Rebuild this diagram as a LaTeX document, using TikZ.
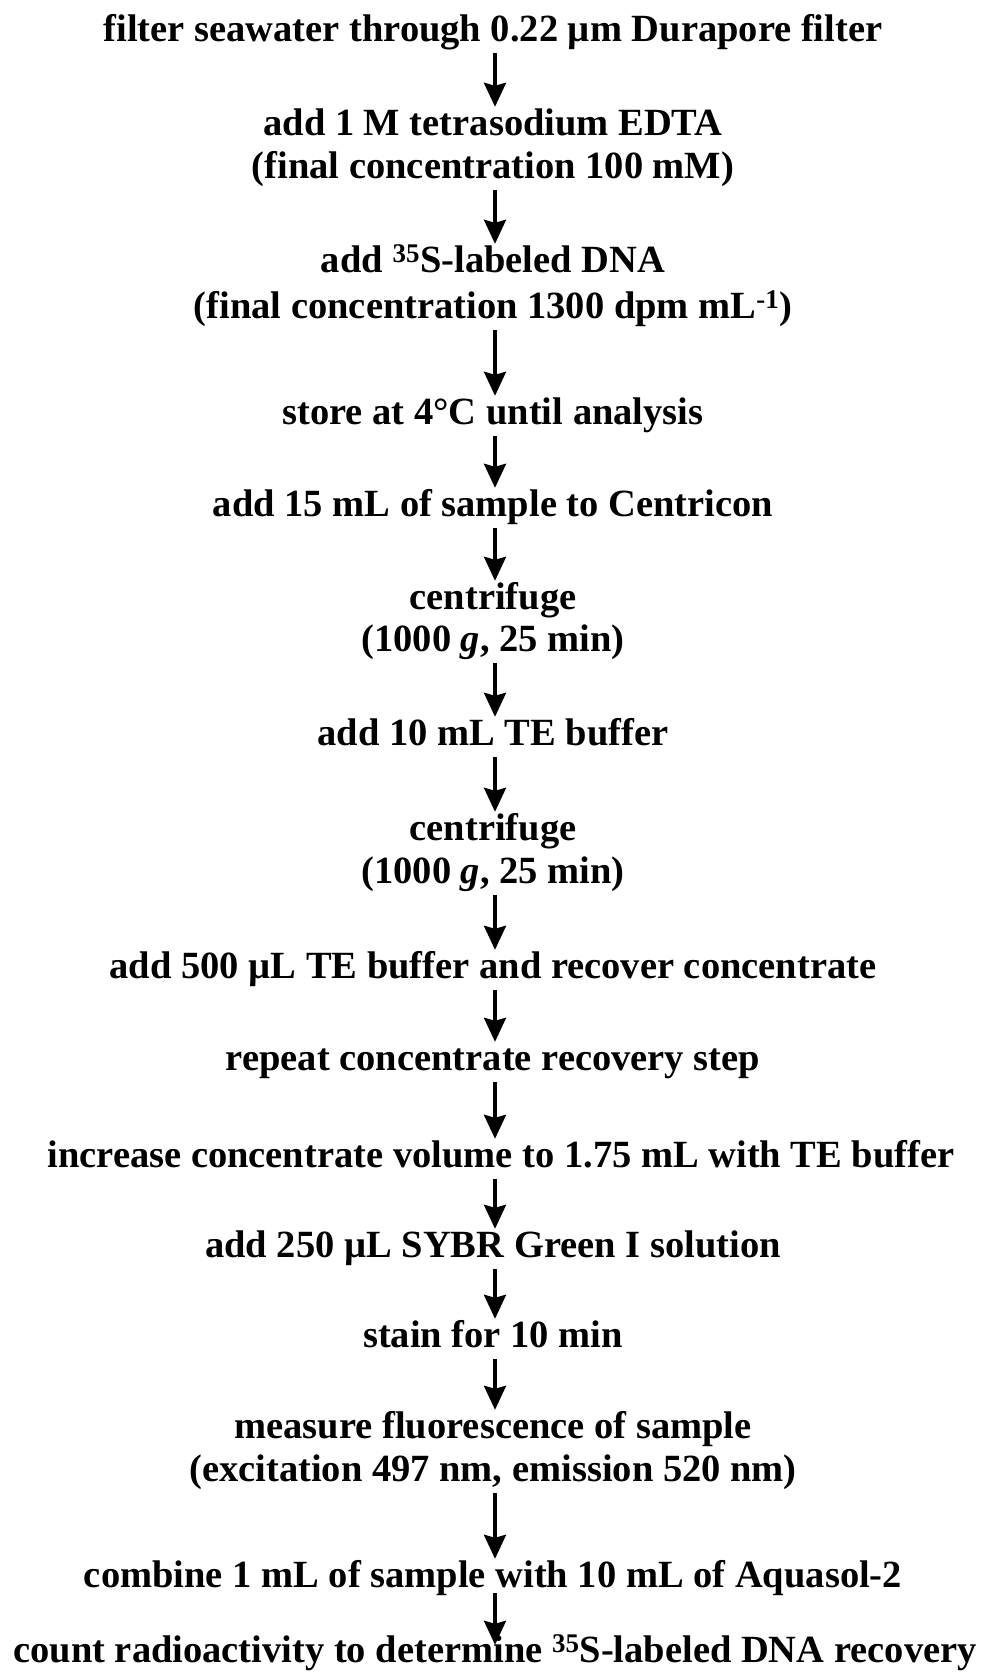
\documentclass[tikz,border=0pt]{standalone}
\usepackage{fontspec}
\setmainfont{Liberation Serif}
\usetikzlibrary{arrows.meta}
\begin{document}
\begin{tikzpicture}[x=1pt,y=-1pt,
  txt/.style={inner sep=0pt, anchor=base, text height=28pt, text depth=12pt,
    font=\fontsize{38.5}{43}\selectfont\bfseries},
  arr/.style={line width=3.4pt, -{Stealth[length=24pt,width=22pt,inset=3pt]}}]
\useasboundingbox (0,0) rectangle (982,1676);
\coordinate (axis) at (495,0);
\node[txt] (n1)  at (493,41)   {filter seawater through 0.22 µm Durapore filter};
\node[txt] (n2a) at (493,135)  {add 1 M tetrasodium EDTA};
\node[txt] (n2b) at (493,178)  {(final concentration 100 mM)};
\node[txt] (n3a) at (493,272)  {add \textsuperscript{35}S-labeled DNA};
\node[txt] (n3b) at (493,318)  {(final concentration 1300 dpm mL\textsuperscript{-1})};
\node[txt] (n4)  at (493,424)  {store at 4°C until analysis};
\node[txt] (n5)  at (493,516)  {add 15 mL of sample to Centricon};
\node[txt] (n6a) at (493,609)  {centrifuge};
\node[txt] (n6b) at (493,651)  {(1000 \textit{g}, 25 min)};
\node[txt] (n7)  at (493,745)  {add 10 mL TE buffer};
\node[txt] (n8a) at (493,840)  {centrifuge};
\node[txt] (n8b) at (493,883)  {(1000 \textit{g}, 25 min)};
\node[txt] (n9)  at (493,978)  {add 500 µL TE buffer and recover concentrate};
\node[txt] (n10) at (493,1070) {repeat concentrate recovery step};
\node[txt] (n11) at (501,1167) {increase concentrate volume to 1.75 mL with TE buffer};
\node[txt] (n12) at (493,1257) {add 250 µL SYBR Green I solution};
\node[txt] (n13) at (493,1347) {stain for 10 min};
\node[txt] (n14a) at (493,1438) {measure fluorescence of sample};
\node[txt] (n14b) at (493,1481) {(excitation 497 nm, emission 520 nm)};
\node[txt] (n15) at (493,1587) {combine 1 mL of sample with 10 mL of Aquasol-2};
\node[txt] (n16) at (495,1662) {count radioactivity to determine \textsuperscript{35}S-labeled DNA recovery};
\foreach \a/\b in {n1/n2a,n2b/n3a,n3b/n4,n4/n5,n5/n6a,n6b/n7,n7/n8a,n8b/n9,n9/n10,n10/n11,n11/n12,n12/n13,n13/n14a,n14b/n15}
  \draw[arr] (\a.south -| axis) -- (\b.north -| axis);
\draw[arr, shorten <=-6pt, shorten >=-11pt] (n15.south -| axis) -- (n16.north -| axis);
\end{tikzpicture}
\end{document}
